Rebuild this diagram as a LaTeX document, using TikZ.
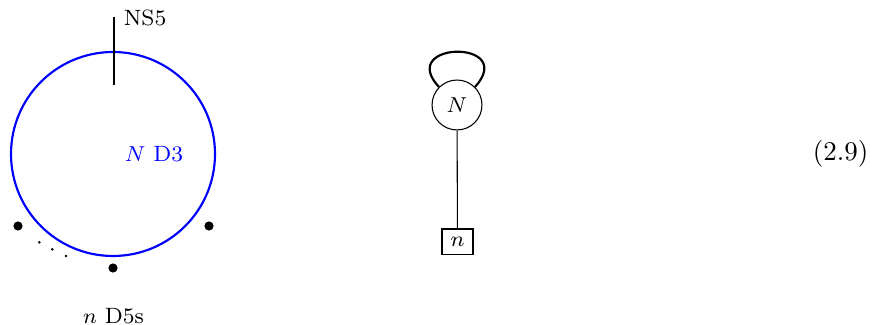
\documentclass[tikz,border=0pt]{standalone}
\begin{document}
\begin{tikzpicture}[x=0.3704pt,y=-0.3704pt,
  lab/.style={font=\fontsize{8.2}{10}\selectfont},
  bigdot/.style={circle,fill=black,inner sep=0pt,minimum size=3.4pt},
  smalldot/.style={circle,fill=black,inner sep=0pt,minimum size=1.1pt},
  gauge/.style={draw,circle,inner sep=0pt,minimum size=18.5pt,line width=0.4pt,lab},
  flavour/.style={draw,rectangle,inner sep=0pt,minimum width=11.5pt,minimum height=9.6pt,line width=0.4pt,lab}]
\useasboundingbox (0,0) rectangle (870,325);
% brane picture
\draw[blue,line width=0.8pt] (113,154) circle[radius=102];
\coordinate (ns5top) at (114,17);
\coordinate (ns5bot) at (114,85);
\draw[line width=0.8pt] (ns5top) -- (ns5bot);
\node[lab,anchor=west,inner sep=0pt] (ns5lab) at (123.3,18) {NS5};
\node[lab,blue,inner sep=0pt] (d3lab) at (154,154) {$N$ D3};
\node[bigdot] (d5a) at (18,226) {};
\node[bigdot] (d5b) at (209,226) {};
\node[bigdot] (d5c) at (113,268) {};
\node[smalldot] (s1) at (39.3,242.3) {};
\node[smalldot] (s2) at (52.3,249.3) {};
\node[smalldot] (s3) at (66,256) {};
\node[lab,inner sep=0pt] (d5lab) at (113.5,316) {$n$ D5s};
% quiver
\node[gauge] (N) at (457,105) {$N$};
\node[flavour] (F) at (457.5,242) {$n$};
\draw[line width=0.4pt] (N) -- (F);
\draw[line width=0.8pt] (N.135) .. controls +(-43,-46) and +(43,-48) .. (N.45);
% equation number
\node[anchor=east,inner sep=0pt] (eqno) at (869,154) {(2.9)};
\end{tikzpicture}
\end{document}
